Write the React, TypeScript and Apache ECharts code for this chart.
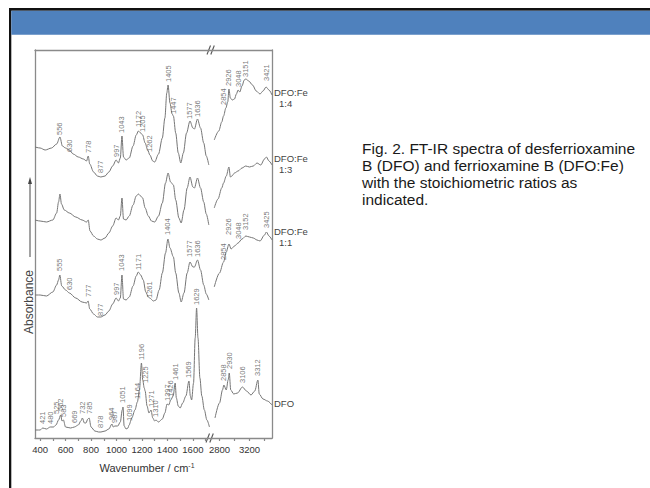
import { useEffect, useRef } from "react";
import * as echarts from "echarts";

// ---- axis data (wavenumber, cm-1) ----
const leftRange = [360, 1750];
const rightRange = [2700, 3500];
const leftTicks = [400, 500, 600, 700, 800, 900, 1000, 1100, 1200, 1300, 1400, 1500, 1600, 1700];
const leftTickLabels = [400, 600, 800, 1000, 1200, 1400, 1600];
const rightTicks = [2800, 3000, 3200, 3400];
const rightTickLabels = [2800, 3200];
const absRange = [0, 388];

const traceNames = ["DFO:Fe 1:4", "DFO:Fe 1:3", "DFO:Fe 1:1", "DFO"];

// ---- spectra: [wavenumber, absorbance (a.u., stacked)] ----
const fe14Low = [
  [360, 291], [400, 290], [440, 288], [490, 290], [530, 294], [556, 301], [575, 292], [600, 290],
  [630, 288], [660, 284], [700, 281], [740, 279], [765, 277], [778, 282], [790, 274], [820, 266],
  [850, 262], [877, 261], [910, 262], [940, 266], [970, 272], [997, 278], [1015, 275], [1030, 280],
  [1043, 302], [1055, 281], [1075, 278], [1100, 280], [1130, 292], [1155, 303], [1172, 307],
  [1190, 305], [1205, 303], [1225, 295], [1245, 288], [1262, 283], [1285, 277], [1300, 276],
  [1330, 284], [1360, 300], [1380, 320], [1395, 345], [1405, 353], [1420, 335], [1437, 324],
  [1447, 322], [1465, 305], [1485, 285], [1505, 275], [1525, 285], [1550, 305], [1577, 317],
  [1600, 310], [1612, 309], [1636, 319], [1660, 310], [1685, 295], [1705, 282], [1725, 273],
];
const fe14High = [
  [2730, 298], [2790, 307], [2830, 316], [2854, 322], [2885, 330], [2910, 336], [2926, 349],
  [2945, 340], [2970, 338], [3000, 339], [3025, 344], [3048, 348], [3070, 346], [3100, 352],
  [3130, 358], [3151, 359], [3190, 357], [3240, 353], [3290, 347], [3340, 344], [3380, 347],
  [3421, 351], [3460, 348], [3500, 343],
];
const fe13Low = [
  [360, 218], [400, 217], [450, 216], [500, 218], [530, 225], [545, 236], [556, 244], [568, 234],
  [590, 228], [630, 225], [680, 221], [730, 218], [765, 216], [778, 218], [792, 207], [820, 202],
  [850, 199], [877, 198], [910, 200], [940, 205], [970, 212], [997, 220], [1015, 218], [1030, 222],
  [1043, 240], [1055, 219], [1075, 218], [1100, 222], [1130, 233], [1155, 242], [1172, 244],
  [1190, 242], [1205, 240], [1225, 230], [1250, 222], [1275, 217], [1300, 216], [1330, 222],
  [1360, 235], [1385, 255], [1405, 265], [1425, 256], [1447, 253], [1465, 238], [1490, 220],
  [1508, 215], [1530, 228], [1555, 250], [1577, 261], [1600, 251], [1612, 250], [1636, 260],
  [1660, 250], [1685, 236], [1705, 224], [1725, 213],
];
const fe13High = [
  [2730, 230], [2780, 239], [2830, 250], [2854, 255], [2890, 262], [2926, 271], [2945, 261],
  [2965, 262], [3000, 265], [3048, 267], [3100, 270], [3150, 272], [3200, 271], [3250, 272],
  [3300, 275], [3350, 273], [3400, 279], [3425, 281], [3460, 277], [3500, 273],
];
const fe11Low = [
  [360, 143], [400, 143], [450, 142], [500, 146], [530, 153], [545, 158], [555, 163], [570, 152],
  [600, 148], [630, 145], [680, 140], [730, 136], [765, 135], [777, 137], [790, 129], [820, 124],
  [850, 121], [877, 121], [910, 123], [940, 127], [970, 134], [997, 140], [1015, 137], [1030, 140],
  [1043, 163], [1055, 139], [1075, 138], [1100, 141], [1130, 152], [1155, 162], [1171, 166],
  [1190, 163], [1210, 158], [1230, 146], [1250, 141], [1261, 140], [1290, 137], [1310, 138],
  [1335, 148], [1360, 165], [1385, 185], [1404, 199], [1420, 190], [1447, 181], [1465, 165],
  [1490, 145], [1508, 136], [1530, 145], [1555, 165], [1577, 176], [1600, 171], [1612, 171],
  [1636, 178], [1660, 168], [1685, 153], [1705, 144], [1725, 138],
];
const fe11High = [
  [2730, 151], [2800, 165], [2854, 176], [2890, 186], [2926, 194], [2955, 189], [3000, 192],
  [3048, 195], [3100, 199], [3152, 202], [3200, 201], [3250, 200], [3300, 198], [3340, 197],
  [3400, 203], [3425, 206], [3460, 202], [3500, 198],
];
const dfoLow = [
  [360, 8], [400, 8], [421, 10], [450, 9], [480, 11], [505, 11], [525, 13], [545, 18], [562, 23],
  [572, 17], [583, 18], [600, 11], [640, 10], [669, 11], [700, 13], [720, 17], [732, 20],
  [748, 15], [760, 15], [775, 19], [785, 20], [800, 11], [830, 7], [860, 6], [878, 6], [910, 7],
  [940, 9], [964, 14], [975, 11], [987, 12], [1010, 12], [1030, 16], [1045, 28], [1051, 31],
  [1060, 12], [1075, 9], [1090, 10], [1099, 13], [1120, 20], [1145, 28], [1164, 36], [1180, 48],
  [1196, 75], [1206, 58], [1218, 50], [1225, 47], [1240, 32], [1255, 25], [1271, 28], [1285, 20],
  [1300, 17], [1310, 18], [1330, 16], [1360, 19], [1380, 25], [1397, 34], [1410, 33], [1426, 38],
  [1445, 42], [1461, 55], [1470, 40], [1485, 32], [1500, 30], [1520, 35], [1545, 42], [1569, 57],
  [1580, 42], [1590, 38], [1605, 55], [1618, 100], [1629, 130], [1640, 100], [1655, 60],
  [1670, 42], [1690, 28], [1710, 18], [1730, 11],
];
const dfoHigh = [
  [2740, 20], [2800, 35], [2840, 48], [2858, 53], [2890, 48], [2915, 58], [2930, 65], [2950, 48],
  [2990, 44], [3040, 45], [3106, 51], [3160, 47], [3220, 43], [3270, 47], [3312, 58], [3330, 44],
  [3380, 39], [3440, 37], [3500, 33],
];

// ---- peak annotations: [wavenumber, absorbance at text foot] ----
const fe14Peaks = [
  [556, 303], [630, 286], [778, 285], [877, 265], [997, 281], [1043, 305], [1172, 311], [1205, 306],
  [1262, 286], [1405, 356], [1447, 324], [1577, 319], [1636, 321],
];
const fe14PeaksHigh = [[2854, 333], [2926, 352], [3048, 351], [3151, 361], [3421, 357]];
const fe11Peaks = [
  [555, 167], [630, 148], [777, 141], [877, 122], [997, 143], [1043, 167], [1171, 168], [1261, 140],
  [1404, 203], [1577, 181], [1636, 181],
];
const fe11PeaksHigh = [[2854, 178], [2926, 203], [3048, 199], [3152, 208], [3425, 210]];
const dfoPeaks = [
  [421, 14], [480, 14], [525, 24], [562, 27], [583, 21], [669, 15], [732, 24], [785, 24], [878, 10],
  [964, 18], [987, 15], [1051, 35], [1099, 17], [1164, 39], [1196, 78], [1225, 55], [1271, 31],
  [1310, 21], [1397, 37], [1426, 41], [1461, 58], [1569, 60], [1629, 133],
];
const dfoPeaksHigh = [[2858, 57], [2930, 69], [3106, 55], [3312, 62]];

const captionLines = [
  "Fig. 2. FT-IR spectra of desferrioxamine",
  "B (DFO) and ferrioxamine B (DFO:Fe)",
  "with the stoichiometric ratios as",
  "indicated.",
];

const FONT = "'Liberation Sans', Arial, sans-serif";
const LINE = "#767676";
const AXIS = "#8a8a8a";
const TEXT = "#444";

function seg(name: string, data: number[][], idx: number, endLabel?: any) {
  return {
    type: "line",
    name,
    data,
    xAxisIndex: idx,
    yAxisIndex: idx,
    symbol: "none",
    smooth: 0.3,
    smoothMonotone: "x",
    silent: true,
    lineStyle: { color: LINE, width: 1 },
    endLabel,
    z: 3,
  };
}

function peakSeries(name: string, data: number[][], idx: number) {
  return {
    type: "scatter",
    name,
    data,
    xAxisIndex: idx,
    yAxisIndex: idx,
    symbolSize: 1,
    silent: true,
    itemStyle: { color: "rgba(0,0,0,0)" },
    label: {
      show: true,
      position: "inside",
      rotate: 90,
      align: "left",
      verticalAlign: "middle",
      fontSize: 7.5,
      color: "#555",
      fontFamily: FONT,
      formatter: (p: any) => String(p.value[0]),
    },
    z: 4,
  };
}

function nameLabel(lines: string[], dy: number) {
  const fmt = lines.length > 1 ? `{a|${lines[0]}}\n{b|${lines[1]}}` : `{a|${lines[0]}}`;
  return {
    show: true,
    formatter: fmt,
    distance: 2,
    offset: [0, dy],
    rich: {
      a: { fontSize: 9.5, color: TEXT, fontFamily: FONT, lineHeight: 11 },
      b: { fontSize: 9.5, color: TEXT, fontFamily: FONT, lineHeight: 11, padding: [0, 0, 0, 5] },
    },
  };
}

function breakMark(cx: number, cy: number) {
  return {
    type: "group",
    z: 100,
    children: [
      { type: "rect", shape: { x: cx - 1.6, y: cy - 2, width: 3.2, height: 4 }, style: { fill: "#fff" } },
      { type: "line", shape: { x1: cx - 4, y1: cy + 4.5, x2: cx - 0.5, y2: cy - 4.5 }, style: { stroke: "#555", lineWidth: 1.1 } },
      { type: "line", shape: { x1: cx - 0.2, y1: cy + 4.5, x2: cx + 3.3, y2: cy - 4.5 }, style: { stroke: "#555", lineWidth: 1.1 } },
    ],
  };
}

export default function App() {
  const ref = useRef<HTMLDivElement>(null);
  useEffect(() => {
    if (!ref.current) return;
    const chart = echarts.init(ref.current, undefined, { renderer: "svg" });
    const axisLine = { show: true, onZero: false, lineStyle: { color: AXIS, width: 1.3 } };
    const bottomAxis = (gi: number, range: number[], ticks: number[], labels: number[]) => ({
      type: "value",
      gridIndex: gi,
      position: "bottom",
      min: range[0],
      max: range[1],
      axisLine,
      axisTick: { show: true, customValues: ticks, length: 3, lineStyle: { color: AXIS, width: 1.2 } },
      axisLabel: {
        show: true,
        customValues: labels,
        fontSize: 9.5,
        color: "#333",
        margin: 6,
        fontFamily: FONT,
        formatter: (v: number) => String(v),
      },
      splitLine: { show: false },
    });
    const topAxis = (gi: number, range: number[]) => ({
      type: "value",
      gridIndex: gi,
      position: "top",
      min: range[0],
      max: range[1],
      axisLine,
      axisTick: { show: false },
      axisLabel: { show: false },
      splitLine: { show: false },
    });
    const yAx = (gi: number, pos: string) => ({
      type: "value",
      gridIndex: gi,
      position: pos,
      min: absRange[0],
      max: absRange[1],
      axisLine,
      axisTick: { show: false },
      axisLabel: { show: false },
      splitLine: { show: false },
    });

    const option: any = {
      animation: false,
      backgroundColor: "#fff",
      textStyle: { fontFamily: FONT },
      grid: [
        { left: 35, top: 50, width: 177, height: 388 },
        { left: 212, top: 50, width: 60, height: 388 },
      ],
      xAxis: [
        bottomAxis(0, leftRange, leftTicks, leftTickLabels),
        bottomAxis(1, rightRange, rightTicks, rightTickLabels),
        topAxis(0, leftRange),
        topAxis(1, rightRange),
      ],
      yAxis: [yAx(0, "left"), yAx(1, "right")],
      series: [
        seg(traceNames[0], fe14Low, 0),
        seg(traceNames[0], fe14High, 1, nameLabel(["DFO:Fe", "1:4"], 3)),
        seg(traceNames[1], fe13Low, 0),
        seg(traceNames[1], fe13High, 1, nameLabel(["DFO:Fe", "1:3"], -1)),
        seg(traceNames[2], fe11Low, 0),
        seg(traceNames[2], fe11High, 1, nameLabel(["DFO:Fe", "1:1"], -3)),
        seg(traceNames[3], dfoLow, 0),
        seg(traceNames[3], dfoHigh, 1, nameLabel(["DFO"], -2)),
        peakSeries("p14", fe14Peaks, 0),
        peakSeries("p14h", fe14PeaksHigh, 1),
        peakSeries("p11", fe11Peaks, 0),
        peakSeries("p11h", fe11PeaksHigh, 1),
        peakSeries("pdfo", dfoPeaks, 0),
        peakSeries("pdfoh", dfoPeaksHigh, 1),
      ],
      graphic: [
        { type: "rect", z: 100, shape: { x: 9, y: 8, width: 2.3, height: 480 }, style: { fill: "#111" } },
        { type: "rect", z: 100, shape: { x: 9, y: 8, width: 641, height: 2.7 }, style: { fill: "#111" } },
        { type: "rect", z: 100, shape: { x: 11.3, y: 10.7, width: 640, height: 24 }, style: { fill: "#4f81bd" } },
        breakMark(211, 50),
        breakMark(210, 438),
        { type: "line", z: 100, shape: { x1: 30, y1: 257, x2: 30, y2: 183 }, style: { stroke: TEXT, lineWidth: 1 } },
        { type: "polygon", z: 100, shape: { points: [[30, 177], [28, 184], [32, 184]] }, style: { fill: TEXT } },
        {
          type: "text", z: 100, x: 29, y: 302, rotation: Math.PI / 2,
          style: { text: "Absorbance", fontSize: 12, fontFamily: FONT, fill: TEXT, align: "center", verticalAlign: "middle" },
        },
        {
          type: "text", z: 100, x: 147, y: 468,
          style: {
            text: "{a|Wavenumber / cm}{s|-1}",
            align: "center",
            verticalAlign: "middle",
            rich: {
              a: { fontSize: 11, fontFamily: FONT, fill: "#333", lineHeight: 13 },
              s: { fontSize: 7, fontFamily: FONT, fill: "#333", verticalAlign: "top", lineHeight: 13 },
            },
          },
        },
        {
          type: "text", z: 100, x: 362, y: 140,
          style: {
            text: captionLines.join("\n"),
            fontSize: 15.5,
            lineHeight: 17,
            fontFamily: FONT,
            fill: "#1a1a1a",
            align: "left",
            verticalAlign: "top",
          },
        },
      ],
    };
    chart.setOption(option);
    return () => chart.dispose();
  }, []);
  return (
    <div
      ref={ref}
      style={{ position: "absolute", left: 0, top: 0, width: 650, height: 488, background: "#fff" }}
    />
  );
}
